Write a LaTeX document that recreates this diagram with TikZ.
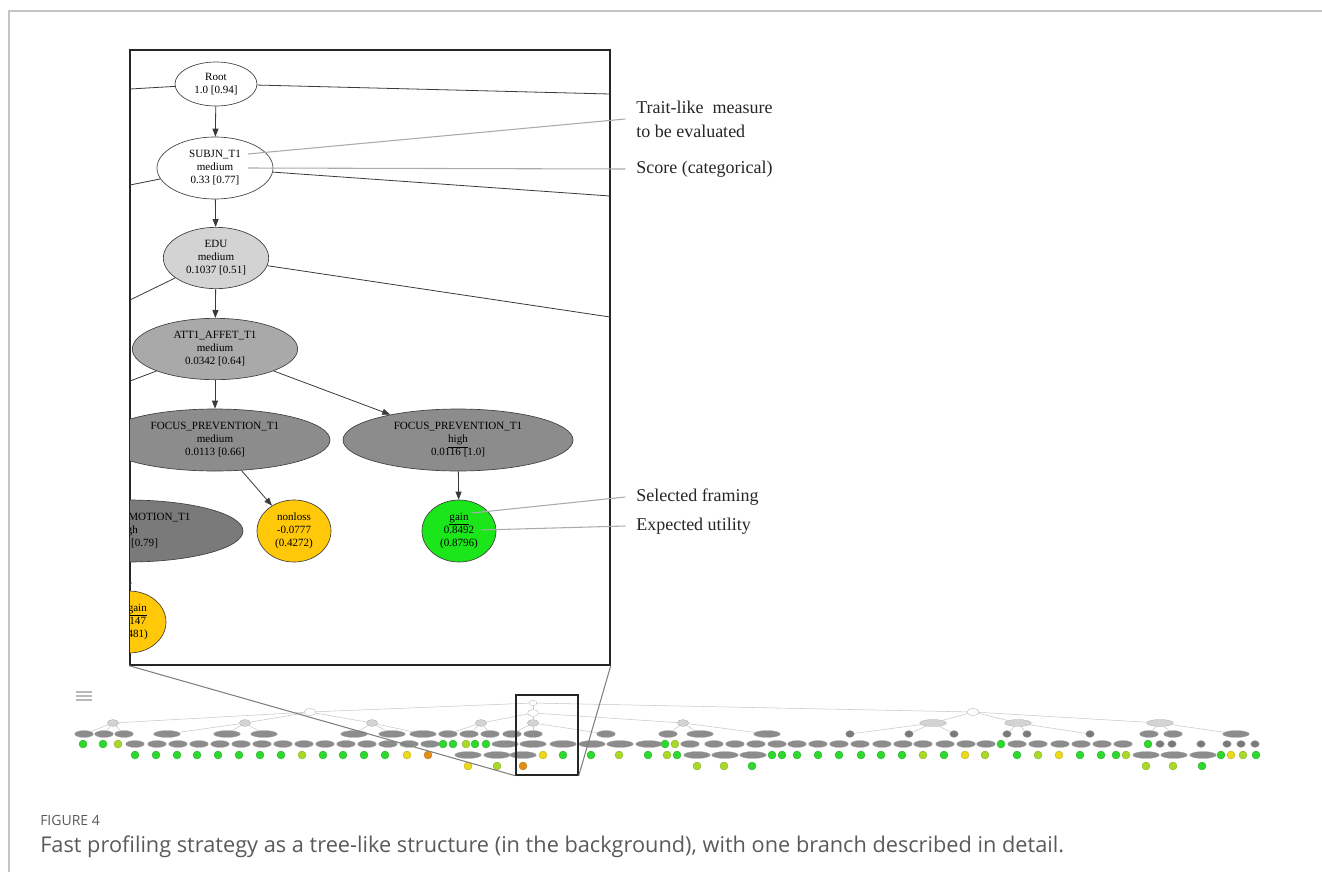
\documentclass[tikz,border=0pt]{standalone}
\usepackage{fontspec}
\setmainfont{Liberation Serif}
\newfontfamily\capfont{Open Sans}
\usetikzlibrary{arrows.meta,shapes.geometric}
\definecolor{edgegray}{HTML}{3A3A3A}
\definecolor{leadgray}{HTML}{ABABAB}
\definecolor{rulegray}{HTML}{C4C4C4}
\definecolor{lgray}{HTML}{D3D3D3}
\definecolor{mgray}{HTML}{A9A9A9}
\definecolor{dgray}{HTML}{8C8C8C}
\definecolor{ddgray}{HTML}{7A7A7A}
\definecolor{gold}{HTML}{FFC90A}
\definecolor{lime}{HTML}{1AE61A}
\definecolor{mg}{HTML}{2ED82E}
\definecolor{myg}{HTML}{A8D82A}
\definecolor{my}{HTML}{ECD81A}
\definecolor{mo}{HTML}{E0901A}
\definecolor{capgray}{HTML}{5A5A5A}
\tikzset{
  tnode/.style={ellipse,draw=black!75,line width=0.5pt,inner sep=0pt,align=center,
    font=\fontsize{8.3}{9.75}\selectfont},
  flow/.style={-{Triangle[length=6pt,width=4.5pt]},edgegray,line width=0.6pt},
  side/.style={edgegray,line width=0.6pt},
  lead/.style={leadgray,line width=0.8pt},
  callout/.style={anchor=west,align=left,inner sep=0pt,text=black!85,
    font=\fontsize{13.5}{18}\selectfont},
  % miniature tree
  mini/.style={ellipse,inner sep=0pt,draw=black!35,line width=0.2pt,minimum height=5.2pt},
  mwhite/.style={mini,fill=white,minimum width=8pt},
  mlight/.style={mini,fill=lgray,minimum width=8.5pt},
  mlightw/.style={mini,fill=lgray,minimum width=20pt},
  mnarrow/.style={mini,fill=dgray,minimum width=14pt},
  mwide/.style={mini,fill=dgray,minimum width=20pt},
  msmall/.style={mini,fill=ddgray,minimum width=6.5pt},
  leaf/.style={circle,inner sep=0pt,minimum size=6pt,fill=#1,draw=#1!75!black,line width=0.2pt},
  medge/.style={black!22,line width=0.4pt},
  zoomline/.style={black!50,line width=0.8pt}
}
\begin{document}
\begin{tikzpicture}[x=0.75pt,y=-0.75pt]
\useasboundingbox (0,0) rectangle (1322,872);
\draw[rulegray,line width=0.8pt] (9,872) -- (9,11) -- (1322,11);

% legend scribble
\foreach \y in {692,696,700}
  \draw[black!28,line width=1.3pt] (76,\y) -- (92,\y);

% ---- whole tree, miniature ----
\node[mwhite,minimum width=6pt,minimum height=4pt] (m0) at (533,703) {};
\node[mwhite,minimum width=9pt] (a310) at (310,712) {};
\node[mwhite] (a533) at (533,713) {};
\node[mwhite,minimum width=9pt] (a973) at (973,712) {};
\foreach \x in {113,245,372,481,533,683}
  \node[mlight] (b\x) at (\x,723) {};
\foreach \x in {933,1018,1160}
  \node[mlightw] (b\x) at (\x,723) {};

\foreach \x in {84,104,124,448,469,490,512,533,606,668,1149,1173}
  \node[mnarrow] (c\x) at (\x,734) {};
\foreach \x in {167,227,264,354,392,423,700,767,1236}
  \node[mwide] (c\x) at (\x,734) {};
\foreach \x in {850,909,954,1007,1027,1090}
  \node[msmall] (c\x) at (\x,734) {};

\foreach \x in {135,157,178,199,220,241,262,283,304,325,346,367,388,409,430,
    690,714,735,756,777,797,818,839,860,882,903,923,945,966,986,
    1017,1038,1060,1081,1102,1123}
  \node[mnarrow] (d\x) at (\x,744) {};
\foreach \x in {505,533,563,592,620,649}
  \node[mwide] (d\x) at (\x,744) {};
\foreach \x in {1160,1172,1201,1227,1241,1255}
  \node[msmall] (d\x) at (\x,744) {};
\foreach \x/\c in {83/mg,103/mg,118/myg,443/mg,453/mg,466/myg,475/mg,486/mg,
    665/mg,675/myg,1001/mg,1148/mg}
  \node[leaf=\c] (d\x) at (\x,744) {};

\foreach \x in {468,497,523,697,725,753,1146,1174,1203}
  \node[mwide] (e\x) at (\x,755) {};
\foreach \x/\c in {135/mg,156/mg,177/mg,197/mg,218/mg,239/mg,260/mg,281/mg,
    302/myg,323/mg,343/mg,364/mg,385/mg,407/my,428/mo,543/my,563/mg,591/mg,
    619/myg,648/mg,667/myg,677/mg,772/mg,782/mg,797/mg,818/mg,839/mg,861/mg,
    881/mg,902/mg,923/myg,944/mg,965/my,985/myg,1017/mg,1038/myg,1059/my,
    1080/mg,1101/mg,1116/mg,1126/myg,1221/mg,1231/my,1243/myg,1256/mg}
  \node[leaf=\c] (e\x) at (\x,755) {};

\foreach \x/\c in {468/my,497/myg,523/mo,697/myg,724/myg,752/mg,1146/myg,
    1173/myg,1202/mg}
  \node[leaf=\c] (f\x) at (\x,766) {};

\foreach \p/\q in {m0/a310,m0/a533,m0/a973,
    a310/b113,a310/b245,a310/b372,a533/b481,a533/b533,a533/b683,
    a973/b933,a973/b1018,a973/b1160}
  \draw[medge] (\p) -- (\q);
\foreach \p/\q in {113/84,113/104,113/124,245/167,245/227,245/264,
    372/354,372/392,372/423,481/448,481/469,481/490,533/512,533/533,533/606,
    683/668,683/700,683/767,933/850,933/909,933/954,1018/1007,1018/1027,
    1018/1090,1160/1149,1160/1173,1160/1236}
  \draw[medge] (b\p) -- (c\q);

% ---- detail window ----
\node[draw=black!85,line width=1.1pt,fill=white,inner sep=0pt,
  minimum width=360pt,minimum height=461.25pt] (detail) at (370,357.5) {};
\node[draw=black!85,line width=1.1pt,inner sep=0pt,
  minimum width=46.5pt,minimum height=60pt] (lens) at (547,735) {};
\draw[zoomline] (detail.south west) -- (lens.south west);
\draw[zoomline] (detail.south east) -- (lens.south east);

\begin{scope}
\clip (130,50) rectangle (610,665);
\node[tnode,fill=white,minimum width=61.5pt,minimum height=33pt] (root) at (216,84)
  {Root\\1.0 [0.94]};
\node[tnode,fill=white,minimum width=87pt,minimum height=46.5pt] (subj) at (215,168)
  {SUBJN\_T1\\medium\\0.33 [0.77]};
\node[tnode,fill=lgray,minimum width=79pt,minimum height=46pt] (edu) at (216,258)
  {EDU\\medium\\0.1037 [0.51]};
\node[tnode,fill=mgray,minimum width=124pt,minimum height=46pt] (att) at (215,349)
  {ATT1\_AFFET\_T1\\medium\\0.0342 [0.64]};
\node[tnode,fill=dgray,minimum width=172.5pt,minimum height=46.5pt] (fpmed) at (215,440)
  {FOCUS\_PREVENTION\_T1\\medium\\0.0113 [0.66]};
\node[tnode,fill=dgray,minimum width=172.5pt,minimum height=46.5pt] (fphigh) at (458,440)
  {FOCUS\_PREVENTION\_T1\\\underline{high}\\0.0116 [1.0]};
\node[tnode,fill=ddgray,minimum width=172.5pt,minimum height=46.5pt] (fpro) at (128,531)
  {FOCUS\_PROMOTION\_T1\\high\\0.0121 [0.79]};
\node[tnode,fill=gold,minimum width=55.5pt,minimum height=46.5pt] (nonloss) at (294,531)
  {nonloss\\-0.0777\\(0.4272)};
\node[tnode,fill=lime,minimum width=55.5pt,minimum height=46.5pt] (gain) at (459,531)
  {\underline{gain}\\0.8492\\(0.8796)};
\node[tnode,fill=gold,minimum width=55.5pt,minimum height=46.5pt] (nongain) at (129,622)
  {\underline{nongain}\\-0.0147\\(0.4481)};

\coordinate (rootW) at (130,89);
\coordinate (rootE) at (610,94);
\coordinate (subjW) at (130,185);
\coordinate (subjE) at (610,196);
\coordinate (eduW) at (130,300);
\coordinate (eduE) at (610,317);
\coordinate (attW) at (130,381);
\draw[side] (root) -- (rootW);
\draw[side] (root) -- (rootE);
\draw[side] (subj) -- (subjW);
\draw[side] (subj) -- (subjE);
\draw[side] (edu) -- (eduW);
\draw[side] (edu) -- (eduE);
\draw[side] (att) -- (attW);

\draw[flow] (root) -- (subj);
\draw[flow] (subj) -- (edu);
\draw[flow] (edu) -- (att);
\draw[flow] (att) -- (fpmed);
\draw[flow] (att) -- (fphigh);
\draw[flow] (fpmed) -- (nonloss);
\draw[flow] (fphigh) -- (gain);
\draw[flow] (fpro) -- (nongain);
\end{scope}

% callouts
\coordinate (p1) at (248,154);
\coordinate (p2) at (248,168);
\coordinate (p3) at (472,513);
\coordinate (p4) at (482,530);
\node[callout] (trait) at (636,119) {Trait-like\ \ measure\\to be evaluated};
\node[callout] (score) at (636,169) {Score (categorical)};
\node[callout] (frame) at (636,497) {Selected framing};
\node[callout] (util) at (636,526) {Expected utility};
\draw[lead] (p1) -- ([xshift=-8pt]trait.west);
\draw[lead] (p2) -- ([xshift=-8pt]score.west);
\draw[lead] (p3) -- ([xshift=-8pt]frame.west);
\draw[lead] (p4) -- ([xshift=-8pt]util.west);

% caption
\node[anchor=base west,inner sep=0pt,text=capgray,font=\capfont\fontsize{10.5}{12}\selectfont]
  (figno) at (40,825) {FIGURE 4};
\node[anchor=base west,inner sep=0pt,text=capgray,font=\capfont\fontsize{16.3}{18}\selectfont]
  (caption) at (40,852)
  {Fast profiling strategy as a tree-like structure (in the background), with one branch described in detail.};
\end{tikzpicture}
\end{document}
